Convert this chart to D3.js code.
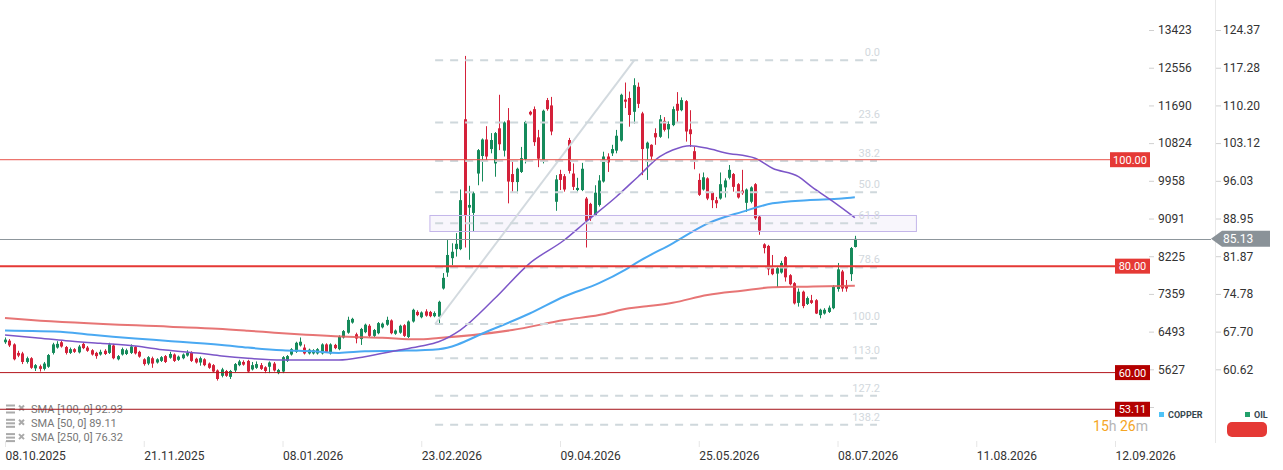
<!DOCTYPE html>
<html>
<head>
<meta charset="utf-8">
<script src="https://cdn.jsdelivr.net/npm/d3@7"></script>
<style>
body { margin: 0; background: #fff; }
svg { display: block; font-family: Roboto, "Noto Sans", sans-serif; }
</style>
</head>
<body>
<div id="chart"></div>
<script>
// daily candles (oil)
const opens = [65.7,66.0,65.3,63.7,63.6,62.0,62.7,60.8,61.2,60.7,61.1,63.7,64.7,65.7,64.8,63.7,64.4,63.8,65.4,64.7,
  64.2,63.7,63.4,64.1,63.7,65.1,62.5,63.4,63.5,63.7,64.8,63.9,62.5,61.7,62.7,61.9,62.2,63.1,62.8,63.4,
  62.4,62.7,63.2,63.7,62.6,61.9,62.5,61.7,61.4,60.4,59.4,60.3,59.2,60.4,61.4,62.0,62.2,60.6,60.9,61.4,
  61.0,61.1,61.7,59.9,60.2,62.2,63.4,63.9,65.1,64.7,63.6,63.6,63.6,63.6,65.3,63.6,65.2,64.4,66.6,67.5,
  69.4,67.2,66.3,67.6,68.8,66.9,67.4,68.5,69.0,69.8,67.3,67.5,68.9,66.7,69.6,71.4,70.4,71.5,71.4,70.6,
  70.5,75.8,78.8,81.5,83.2,83.2,107.6,91.0,90.0,97.4,100.7,103.8,102.0,99.3,105.9,101.7,107.4,97.3,95.8,97.7,
  100.1,109.0,109.5,104.2,99.8,111.2,110.2,92.1,97.3,96.9,103.7,97.4,94.3,94.3,92.7,91.7,89.6,91.5,95.9,100.6,
  101.2,101.7,103.6,111.3,111.6,109.0,113.7,108.7,102.1,102.8,105.0,104.3,107.3,105.7,106.5,110.5,109.3,111.0,105.7,101.6,
  96.2,94.4,96.5,93.8,92.4,92.7,94.8,96.6,97.3,95.4,94.2,91.9,92.1,95.4,89.3,84.1,83.8,79.6,78.6,78.8,
  81.7,78.3,76.8,73.1,75.2,72.9,73.6,73.6,70.8,71.1,71.4,72.1,75.7,79.0,76.3,78.5,83.6];
const highs = [66.6,66.3,65.5,64.1,63.9,63.0,62.9,61.6,61.5,62.0,63.5,65.6,65.9,66.0,65.0,64.7,64.6,65.2,65.6,65.0,
  64.4,63.9,64.3,64.4,65.6,65.4,63.3,64.7,64.5,65.3,65.0,64.1,62.7,63.1,63.0,62.7,63.1,63.3,63.9,63.6,
  63.2,63.6,64.2,64.0,62.8,63.0,62.7,61.9,61.6,60.6,60.9,60.5,60.5,61.8,62.4,62.3,62.4,62.0,62.1,61.8,
  61.2,62.1,62.0,60.7,63.1,63.3,64.6,65.8,66.6,65.3,64.5,64.4,64.6,65.5,65.5,65.5,65.4,67.0,68.0,70.5,
  70.3,67.5,68.4,69.2,69.1,68.2,69.5,69.4,70.5,70.0,68.1,69.0,69.1,69.8,72.0,71.7,71.5,71.9,71.6,71.5,
  73.5,78.7,84.9,84.3,86.2,94.4,119.5,95.1,94.0,102.0,104.0,106.3,105.0,105.2,112.2,107.2,109.7,99.9,98.5,102.4,
  107.3,109.2,110.0,105.6,109.4,111.6,111.8,97.1,98.1,97.3,104.1,99.3,96.6,99.4,93.0,91.9,95.2,97.1,101.5,101.2,
  102.8,105.6,112.4,114.5,112.8,115.3,114.5,109.0,103.4,102.9,105.9,108.4,108.0,107.2,110.0,112.7,111.7,111.2,109.3,102.4,
  97.4,97.6,96.7,94.0,93.0,97.6,96.5,99.0,97.5,95.6,98.1,94.6,95.0,95.6,89.6,84.3,84.0,82.1,79.8,81.0,
  81.9,78.5,77.0,75.8,75.4,74.3,74.6,73.8,72.0,72.1,72.6,76.4,80.6,79.3,77.4,83.6,85.7];
const lows = [65.4,64.8,62.3,62.9,61.6,61.7,60.7,60.3,60.2,60.4,60.9,63.4,64.5,64.7,63.4,63.5,63.7,63.6,64.4,63.9,
  63.2,62.6,63.2,63.3,63.5,62.5,62.3,63.2,63.3,63.5,63.4,62.8,61.3,61.4,60.9,61.7,62.0,61.8,62.6,62.0,
  62.2,62.5,63.0,62.0,61.7,61.3,61.2,60.7,60.0,58.5,59.1,59.2,58.8,60.1,61.2,61.3,60.0,60.4,60.7,60.5,
  59.9,59.9,60.2,59.7,59.9,62.0,63.2,63.7,64.9,63.4,63.4,63.4,63.4,63.4,63.7,63.4,64.4,64.2,66.4,67.3,
  69.2,65.5,65.2,67.4,66.7,66.7,67.2,68.3,68.8,67.2,67.1,67.3,66.7,66.5,69.4,70.6,70.2,70.5,70.4,70.4,
  69.3,75.6,78.0,80.2,81.8,83.0,83.5,81.2,86.5,95.2,95.9,99.9,101.2,96.8,101.8,100.6,91.8,94.0,93.7,97.5,
  99.3,108.3,102.6,98.6,99.3,109.2,104.6,90.4,94.3,94.0,97.4,94.3,94.0,94.1,83.5,88.5,89.4,91.2,95.7,97.7,
  100.7,101.2,103.4,109.7,106.2,106.8,109.7,97.1,96.2,99.9,102.8,104.1,105.3,104.0,106.3,107.1,109.1,103.4,102.4,98.2,
  93.2,94.2,92.4,90.9,90.9,92.5,92.9,96.3,94.0,92.7,93.4,90.2,91.8,88.7,85.9,82.4,78.3,78.3,76.1,78.6,
  77.1,76.4,72.8,72.4,72.1,72.7,72.9,71.0,70.2,70.9,71.2,71.9,75.2,75.2,75.2,77.2,83.5];
const closes = [66.2,65.1,62.5,63.2,62.0,62.7,60.9,61.4,60.7,61.7,63.3,65.3,65.4,64.9,63.7,64.4,63.9,64.9,64.6,64.1,
  63.4,63.1,63.9,63.5,65.3,62.7,63.1,64.4,64.2,64.9,63.6,63.0,61.6,62.9,61.7,62.5,62.9,62.0,63.5,62.2,
  63.0,63.4,63.7,62.2,61.9,62.7,61.4,60.9,60.2,58.8,60.6,59.4,60.3,61.6,62.1,61.5,60.2,61.4,61.6,60.7,
  60.3,61.9,60.4,60.5,62.9,63.1,64.4,65.6,65.8,63.6,64.3,64.2,64.4,65.3,63.9,65.3,64.6,66.7,67.8,69.9,
  70.1,66.4,68.2,69.0,66.9,68.0,69.3,69.2,69.9,67.4,67.9,68.8,66.9,69.6,71.8,70.8,71.3,70.7,70.6,71.2,
  73.3,77.8,82.1,82.7,84.2,92.4,89.6,91.5,93.7,101.8,103.8,100.6,103.7,105.0,102.9,107.0,95.9,95.8,98.3,100.3,
  107.1,108.5,103.3,100.2,109.2,109.5,105.3,96.3,96.2,94.4,97.9,94.9,94.7,98.3,88.5,89.0,93.8,96.1,100.6,99.5,
  102.0,104.5,112.2,110.9,108.4,114.0,110.5,102.0,103.2,100.6,104.2,107.6,105.6,106.7,109.5,109.2,111.2,105.3,104.8,99.9,
  93.4,96.7,92.7,92.4,91.8,95.4,96.1,98.1,94.9,92.9,93.7,94.4,94.8,89.0,86.7,83.4,79.4,78.5,79.6,80.6,
  77.9,76.6,73.0,75.2,72.5,74.0,73.1,71.1,71.8,71.8,72.2,76.1,79.4,75.8,75.8,83.4,85.13];

// moving averages, sampled at candle indices
const sma100Idx = [0,14,20,30,37,50,56,64,71,77,83,91,100,112,121,129,137,143,146,154,162,170,177,185,193,196];
const sma100Val = [67.9,67.6,67.1,66.4,66.0,65.2,64.7,64.2,64.0,63.7,64.0,64.1,64.4,68.0,71.1,74.3,76.8,79.3,80.8,84.3,88.0,90.2,91.8,92.4,92.7,92.93];
const sma50Idx = [0,7,14,22,30,37,45,50,56,64,71,77,83,91,96,100,105,113,121,129,134,141,146,151,154,158,162,166,173,177,183,186,191,196];
const sma50Val = [67.06,66.56,65.99,65.5,64.99,64.24,63.62,63.12,62.68,62.37,62.37,62.37,62.99,64.24,64.99,65.8,68.0,73.96,80.53,84.91,88.35,93.05,96.81,100.57,101.82,102.63,102.14,101.32,100.27,98.39,96.81,94.93,92.11,89.11];
const sma250Idx = [0,6,38,49,56,64,71,79,87,95,100,117,129,137,144,148,154,162,170,177,185,196];
const sma250Val = [70.26,69.88,68.62,68.25,67.87,67.38,67.06,66.74,66.55,66.25,66.5,68.0,69.88,70.82,72.08,72.46,73.13,74.58,75.39,76.03,76.14,76.32];
const smaLegend = ["SMA [100, 0] 92.93", "SMA [50, 0] 89.11", "SMA [250, 0] 76.32"];

// fibonacci retracement (anchor points as [candle index, price])
const fibLevels = [0.0, 23.6, 38.2, 50.0, 61.8, 78.6, 100.0, 113.0, 127.2, 138.2];
const fibFrom = [99.2, 69.13];
const fibTo = [145.1, 118.68];
const fibEndIdx = 201.1;

// shaded zone
const zoneIdx = [98, 210.2];
const zonePrice = [86.51, 89.52];

// horizontal alert levels
const levels = [100.00, 80.00, 60.00, 53.11];
const lastPrice = 85.13;

// axes
const oilTicks = [124.37, 117.28, 110.20, 103.12, 96.03, 88.95, 81.87, 74.78, 67.70, 60.62];
const copperTicks = [13423, 12556, 11690, 10824, 9958, 9091, 8225, 7359, 6493, 5627];
const dateTickIdx = [0, 32, 64, 96, 128, 160, 192, 224, 256];
const dateLabels = ["08.10.2025", "21.11.2025", "08.01.2026", "23.02.2026", "09.04.2026", "25.05.2026", "08.07.2026", "11.08.2026", "12.09.2026"];

const W = 1283, H = 470;
const GREEN = "#168a5b", RED = "#d4213a";

const svg = d3.select("#chart").append("svg")
    .attr("width", W)
    .attr("height", H);

const x = d3.scaleLinear().domain([0, 256]).range([5, 1115]);
const y = d3.scaleLinear().domain([60.62, 124.37]).range([369.3, 30]);
const yCopper = d3.scaleLinear().domain([5627, 13423]).range([369.3, 30]);

// right axis separator
svg.append("line")
    .attr("x1", 1215.5).attr("x2", 1215.5)
    .attr("y1", 0).attr("y2", 443)
    .attr("stroke", "#e8e8e8");

// copper axis
const gCopper = svg.append("g")
    .attr("transform", "translate(1149,0)")
    .call(d3.axisRight(yCopper).tickValues(copperTicks.concat([4761]))
        .tickSize(5).tickPadding(4)
        .tickFormat(d => d === 4761 ? "" : d3.format("d")(d)));
// oil axis
const gOil = svg.append("g")
    .attr("transform", "translate(1216,0)")
    .call(d3.axisRight(y).tickValues(oilTicks).tickSize(5).tickPadding(2)
        .tickFormat(d3.format(".2f")));
[gCopper, gOil].forEach(g => {
    g.select(".domain").remove();
    g.selectAll(".tick line").attr("stroke", "#d0d0d0");
    g.selectAll(".tick text").attr("fill", "#333").style("font-size", "12px")
        .style("font-family", "Roboto, sans-serif");
});

// date axis
const gx = svg.append("g")
    .attr("transform", "translate(0,441)")
    .call(d3.axisBottom(x).tickValues(dateTickIdx).tickSize(6).tickPadding(4)
        .tickFormat((d, i) => dateLabels[i]));
gx.select(".domain").remove();
gx.selectAll(".tick line").attr("stroke", "#e6e6e6");
gx.selectAll(".tick text")
    .attr("text-anchor", "start")
    .attr("fill", "#333")
    .style("font-size", "12px")
    .style("font-family", "Roboto, sans-serif");

// SMA legend, bottom left
const legRows = svg.append("g").selectAll("g").data(smaLegend).enter().append("g")
    .attr("transform", (d, i) => "translate(0," + (409 + i * 14.3) + ")");
legRows.append("rect").attr("x", 6).attr("y", -4.5).attr("width", 9).attr("height", 2).attr("fill", "#aaa");
legRows.append("rect").attr("x", 6).attr("y", -1).attr("width", 9).attr("height", 2).attr("fill", "#aaa");
legRows.append("rect").attr("x", 6).attr("y", 2.5).attr("width", 9).attr("height", 2).attr("fill", "#aaa");
legRows.append("path").attr("d", "M19,-3.5L24,1.5M24,-3.5L19,1.5")
    .attr("stroke", "#aaa").attr("stroke-width", 2);
legRows.append("text")
    .attr("x", 31).attr("dy", "0.35em")
    .attr("fill", "#777")
    .style("font-size", "11px")
    .text(d => d);

// candles
const idx = d3.range(opens.length);
const candles = svg.append("g").selectAll("g").data(idx).enter().append("g")
    .attr("fill", i => closes[i] >= opens[i] ? GREEN : RED)
    .attr("stroke", i => closes[i] >= opens[i] ? GREEN : RED);
candles.append("line")
    .attr("x1", i => Math.round(x(i)) + 0.5)
    .attr("x2", i => Math.round(x(i)) + 0.5)
    .attr("y1", i => y(highs[i]))
    .attr("y2", i => y(lows[i]))
    .attr("stroke-width", 1);
candles.append("rect")
    .attr("x", i => Math.round(x(i)) - 1)
    .attr("width", 3)
    .attr("y", i => y(Math.max(opens[i], closes[i])))
    .attr("height", i => Math.max(1, Math.abs(y(opens[i]) - y(closes[i]))))
    .attr("stroke", "none");

// moving averages
function smaLine(ix, vals, color, width, opacity) {
    const pts = ix.map((d, i) => [x(d), y(vals[i])]);
    svg.append("path")
        .attr("d", d3.line().curve(d3.curveMonotoneX)(pts))
        .attr("fill", "none")
        .attr("stroke", color)
        .attr("stroke-width", width)
        .attr("opacity", opacity);
}
smaLine(sma250Idx, sma250Val, "#e35d5d", 2, 0.85);
smaLine(sma100Idx, sma100Val, "#4aa9f2", 2, 1);
smaLine(sma50Idx, sma50Val, "#7c56c8", 1.5, 1);

// zone
svg.append("rect")
    .attr("x", x(zoneIdx[0]))
    .attr("y", y(zonePrice[1]))
    .attr("width", x(zoneIdx[1]) - x(zoneIdx[0]))
    .attr("height", y(zonePrice[0]) - y(zonePrice[1]))
    .attr("fill", "#7e57c2").attr("fill-opacity", 0.05)
    .attr("stroke", "#c4b6ea").attr("stroke-width", 1);

// fibonacci
const fibRange = fibTo[1] - fibFrom[1];
const fibG = svg.append("g");
fibG.append("line")
    .attr("x1", x(fibFrom[0])).attr("y1", y(fibFrom[1]))
    .attr("x2", x(fibTo[0])).attr("y2", y(fibTo[1]))
    .attr("stroke", "#d3dadf").attr("stroke-width", 2);
fibLevels.forEach(l => {
    const py = y(fibTo[1] - fibRange * l / 100);
    fibG.append("line")
        .attr("x1", x(fibFrom[0])).attr("x2", x(fibEndIdx))
        .attr("y1", py).attr("y2", py)
        .attr("stroke", "#cfd8dc").attr("stroke-width", 2)
        .attr("stroke-dasharray", "8,7");
    fibG.append("text")
        .attr("x", 880).attr("y", py - 8)
        .attr("text-anchor", "end")
        .attr("dy", "0.35em")
        .attr("fill", "#d2d8dd")
        .style("font-size", "11px")
        .text(l.toFixed(1));
});

// alert levels with tags
const levelColor = { 100: "#e8524a", 80: "#e53935", 60: "#b3161c", 53.11: "#a51218" };
const levelTag = { 100: "#e53935", 80: "#e53935", 60: "#b30000", 53.11: "#b30000" };
const levelWidth = { 100: 1, 80: 2, 60: 1, 53.11: 1 };
const tagX = { 100: 1110, 80: 1115, 60: 1115, 53.11: 1115 };
levels.forEach(v => {
    const py = y(v);
    svg.append("line")
        .attr("x1", 0).attr("x2", tagX[v])
        .attr("y1", py).attr("y2", py)
        .attr("stroke", levelColor[v])
        .attr("stroke-width", levelWidth[v]);
    svg.append("rect")
        .attr("x", tagX[v]).attr("y", py - 7.5)
        .attr("width", 1150 - tagX[v]).attr("height", 15)
        .attr("fill", levelTag[v]);
    svg.append("text")
        .attr("x", (tagX[v] + 1150) / 2).attr("y", py)
        .attr("dy", "0.36em")
        .attr("text-anchor", "middle")
        .attr("fill", "#fff")
        .style("font-size", "11px")
        .text(v.toFixed(2));
});

// last price
const ly = y(lastPrice);
svg.append("line")
    .attr("x1", 0).attr("x2", 1211)
    .attr("y1", Math.round(ly) + 0.5).attr("y2", Math.round(ly) + 0.5)
    .attr("stroke", "#8d969c");
svg.append("path")
    .attr("d", `M1211,${ly}L1222,${ly - 8}L1270,${ly - 8}L1270,${ly + 8}L1222,${ly + 8}Z`)
    .attr("fill", "#8a9298");
svg.append("text")
    .attr("x", 1223).attr("y", ly)
    .attr("dy", "0.36em")
    .attr("fill", "#fff")
    .style("font-size", "12px")
    .text(lastPrice.toFixed(2));

// countdown
const cd = svg.append("text")
    .attr("x", 1148).attr("y", 431)
    .attr("text-anchor", "end")
    .style("font-size", "14px");
cd.append("tspan").attr("fill", "#f5a524").text("15");
cd.append("tspan").attr("fill", "#b5b5b5").text("h ");
cd.append("tspan").attr("fill", "#f5a524").text("26");
cd.append("tspan").attr("fill", "#b5b5b5").text("m");

// series legend
svg.append("rect").attr("x", 1159).attr("y", 412).attr("width", 5).attr("height", 5).attr("fill", "#4fc3f7");
svg.append("text").attr("x", 1168).attr("y", 415).attr("dy", "0.35em")
    .attr("fill", "#37474f").style("font-size", "9px").style("font-weight", "bold").text("COPPER");
svg.append("rect").attr("x", 1245).attr("y", 412).attr("width", 5).attr("height", 5).attr("fill", "#22a06b");
svg.append("text").attr("x", 1254).attr("y", 415).attr("dy", "0.35em")
    .attr("fill", "#37474f").style("font-size", "9px").style("font-weight", "bold").text("OIL");
svg.append("rect").attr("x", 1227).attr("y", 422).attr("width", 40).attr("height", 15).attr("rx", 5)
    .attr("fill", "#e53935");
</script>
</body>
</html>
